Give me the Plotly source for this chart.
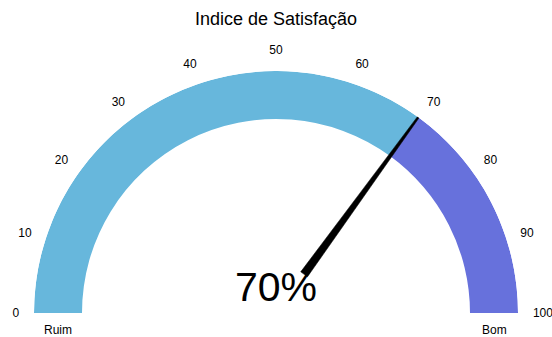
import numpy as np
import plotly.graph_objects as go

# Gauge data
title_text = "Indice de Satisfação"
value = 70
gauge_min, gauge_max = 0, 100
band_starts = [0, 70]
band_ends = [70, 100]
tick_values = [0, 10, 20, 30, 40, 50, 60, 70, 80, 90, 100]
end_labels = ["Ruim", "Bom"]

# Styling
band_colors = ["#67b7dc", "#6771dc"]
inner_frac = 194 / 242          # inner radius of the band as fraction of outer
needle_base_frac = 48 / 242
font_family = "Liberation Sans, Arial, sans-serif"


def to_deg(v):
    """Map a gauge value onto the upper half-circle (min -> 180 deg, max -> 0 deg)."""
    return 180.0 - (np.asarray(v, dtype=float) - gauge_min) / (gauge_max - gauge_min) * 180.0


fig = go.Figure()

# Coloured bands
for s, e, c in zip(band_starts, band_ends, band_colors):
    fig.add_trace(go.Barpolar(
        r=[1 - inner_frac], base=[inner_frac],
        theta=[float(to_deg((s + e) / 2))], width=[float(abs(to_deg(e) - to_deg(s)))],
        marker=dict(color=c, line=dict(width=0)),
        hoverinfo="skip", showlegend=False,
    ))

# Needle: tapered polygon from near the centre to the outer edge
theta_v = float(to_deg(value))
base_half = np.degrees(np.arctan(4.2 / 48))
tip_half = np.degrees(np.arctan(1.0 / 242))
fig.add_trace(go.Scatterpolar(
    r=[needle_base_frac, 1.0, 1.0, needle_base_frac, needle_base_frac],
    theta=[theta_v - base_half, theta_v - tip_half, theta_v + tip_half,
           theta_v + base_half, theta_v - base_half],
    mode="lines", fill="toself", fillcolor="#000000",
    line=dict(color="#000000", width=0.5),
    hoverinfo="skip", showlegend=False,
))

plot_h = 337 - 71 - 24

fig.update_layout(
    width=552, height=337,
    margin=dict(l=34, r=34, t=71, b=24),
    paper_bgcolor="white",
    font=dict(family=font_family, color="#000000"),
    title=dict(text=title_text, x=0.5, xanchor="center", y=0.945, yanchor="middle",
               font=dict(size=18, color="#000000")),
    polar=dict(
        sector=[0, 180],
        bgcolor="white",
        domain=dict(x=[0, 1], y=[0, 1]),
        radialaxis=dict(range=[0, 1], showticklabels=False, ticks="",
                        showgrid=False, showline=False),
        angularaxis=dict(
            rotation=0, direction="counterclockwise",
            tickmode="array",
            tickvals=[float(t) for t in to_deg(tick_values)],
            ticktext=[str(t) for t in tick_values],
            ticks="outside", ticklen=12, tickcolor="white",
            tickfont=dict(size=12, color="#000000"),
            showgrid=False, showline=False,
        ),
    ),
)

# Value label in the middle of the gauge
fig.add_annotation(
    text=f"{value}%", x=0.5, y=(337 - 24 - 287) / plot_h,
    xref="paper", yref="paper", showarrow=False,
    xanchor="center", yanchor="middle",
    font=dict(size=41, color="#000000"),
)

# "Ruim" / "Bom" under the ends of the band
band_mid_frac = (1 + inner_frac) / 2
for label, side in zip(end_labels, [-1, 1]):
    fig.add_annotation(
        text=label, x=0.5 + side * band_mid_frac / 2, y=(337 - 24 - 330) / plot_h,
        xref="paper", yref="paper", showarrow=False,
        xanchor="center", yanchor="middle",
        font=dict(size=12, color="#000000"),
    )

fig.write_html("out.html")
